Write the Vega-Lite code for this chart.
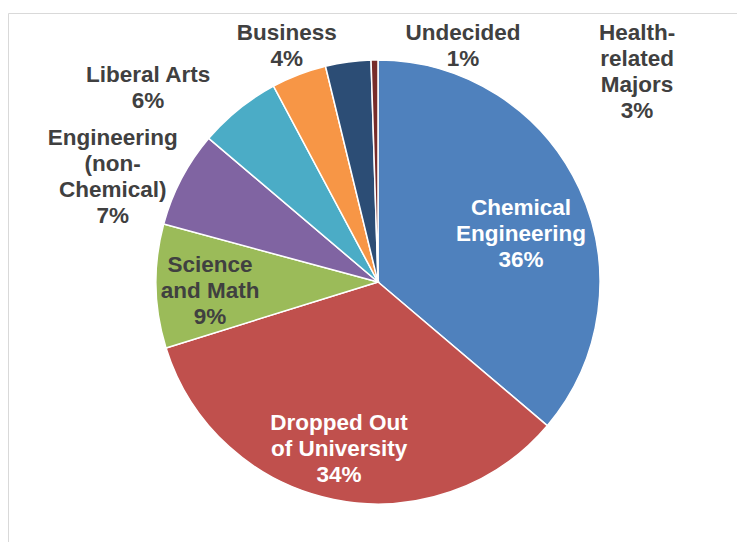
{
  "$schema": "https://vega.github.io/schema/vega-lite/v6.json",
  "autosize": {"type": "none"},
  "width": 740,
  "height": 538,
  "padding": {"left": 8, "top": 13, "right": -11, "bottom": -9},
  "background": "white",
  "view": {"stroke": "#D9D9D9", "strokeWidth": 1, "fill": "white"},
  "data": {
    "values": [
      {"idx": 1, "cat": "Chemical Engineering", "value": 36.2, "label": "Chemical\nEngineering\n36%"},
      {"idx": 2, "cat": "Dropped Out of University", "value": 34.0, "label": "Dropped Out\nof University\n34%"},
      {"idx": 3, "cat": "Science and Math", "value": 9.0, "label": "Science\nand Math\n9%"},
      {"idx": 4, "cat": "Engineering (non-Chemical)", "value": 7.0, "label": "Engineering\n(non-\nChemical)\n7%"},
      {"idx": 5, "cat": "Liberal Arts", "value": 6.0, "label": "Liberal Arts\n6%"},
      {"idx": 6, "cat": "Business", "value": 4.0, "label": "Business\n4%"},
      {"idx": 7, "cat": "Health-related Majors", "value": 3.3, "label": "Health-\nrelated\nMajors\n3%"},
      {"idx": 8, "cat": "Undecided", "value": 0.5, "label": "Undecided\n1%"}
    ]
  },
  "encoding": {
    "theta": {"field": "value", "type": "quantitative", "stack": true},
    "order": {"field": "idx", "type": "quantitative"},
    "detail": {"field": "cat", "type": "nominal"}
  },
  "layer": [
    {
      "mark": {"type": "arc", "outerRadius": 222, "stroke": "white", "strokeWidth": 1.5},
      "encoding": {
        "color": {
          "field": "cat", "type": "nominal", "legend": null,
          "scale": {
            "domain": ["Chemical Engineering", "Dropped Out of University", "Science and Math", "Engineering (non-Chemical)", "Liberal Arts", "Business", "Health-related Majors", "Undecided"],
            "range": ["#4F81BD", "#C0504D", "#9BBB59", "#8064A2", "#4BACC6", "#F79646", "#2C4D75", "#772C2A"]
          }
        }
      }
    },
    {
      "mark": {"type": "text", "radius": 151, "dx": 6, "dy": -11, "font": "Liberation Sans", "fontWeight": "bold", "fontSize": 22.5, "lineHeight": 26, "lineBreak": "\n", "color": "white"},
      "encoding": {"text": {"condition": {"test": "datum.idx === 1", "field": "label"}, "value": ""}}
    },
    {
      "mark": {"type": "text", "radius": 170, "dx": -5, "dy": -26, "font": "Liberation Sans", "fontWeight": "bold", "fontSize": 22.5, "lineHeight": 26, "lineBreak": "\n", "color": "white"},
      "encoding": {"text": {"condition": {"test": "datum.idx === 2", "field": "label"}, "value": ""}}
    },
    {
      "mark": {"type": "text", "radius": 168, "dx": 0, "dy": -20, "font": "Liberation Sans", "fontWeight": "bold", "fontSize": 22.5, "lineHeight": 26, "lineBreak": "\n", "color": "#404040"},
      "encoding": {"text": {"condition": {"test": "datum.idx === 3", "field": "label"}, "value": ""}}
    },
    {
      "mark": {"type": "text", "radius": 285, "dx": -13, "dy": -11, "font": "Liberation Sans", "fontWeight": "bold", "fontSize": 22.5, "lineHeight": 26, "lineBreak": "\n", "color": "#404040"},
      "encoding": {"text": {"condition": {"test": "datum.idx === 4", "field": "label"}, "value": ""}}
    },
    {
      "mark": {"type": "text", "radius": 301, "dx": -41, "dy": 27, "font": "Liberation Sans", "fontWeight": "bold", "fontSize": 22.5, "lineHeight": 26, "lineBreak": "\n", "color": "#404040"},
      "encoding": {"text": {"condition": {"test": "datum.idx === 5", "field": "label"}, "value": ""}}
    },
    {
      "mark": {"type": "text", "radius": 253, "dx": -1, "dy": -13, "font": "Liberation Sans", "fontWeight": "bold", "fontSize": 22.5, "lineHeight": 26, "lineBreak": "\n", "color": "#404040"},
      "encoding": {"text": {"condition": {"test": "datum.idx === 6", "field": "label"}, "value": ""}}
    },
    {
      "mark": {"type": "text", "radius": 334, "dx": 304, "dy": 82, "font": "Liberation Sans", "fontWeight": "bold", "fontSize": 22.5, "lineHeight": 26, "lineBreak": "\n", "color": "#404040"},
      "encoding": {"text": {"condition": {"test": "datum.idx === 7", "field": "label"}, "value": ""}}
    },
    {
      "mark": {"type": "text", "radius": 252, "dx": 89, "dy": 3, "font": "Liberation Sans", "fontWeight": "bold", "fontSize": 22.5, "lineHeight": 26, "lineBreak": "\n", "color": "#404040"},
      "encoding": {"text": {"condition": {"test": "datum.idx === 8", "field": "label"}, "value": ""}}
    }
  ]
}
